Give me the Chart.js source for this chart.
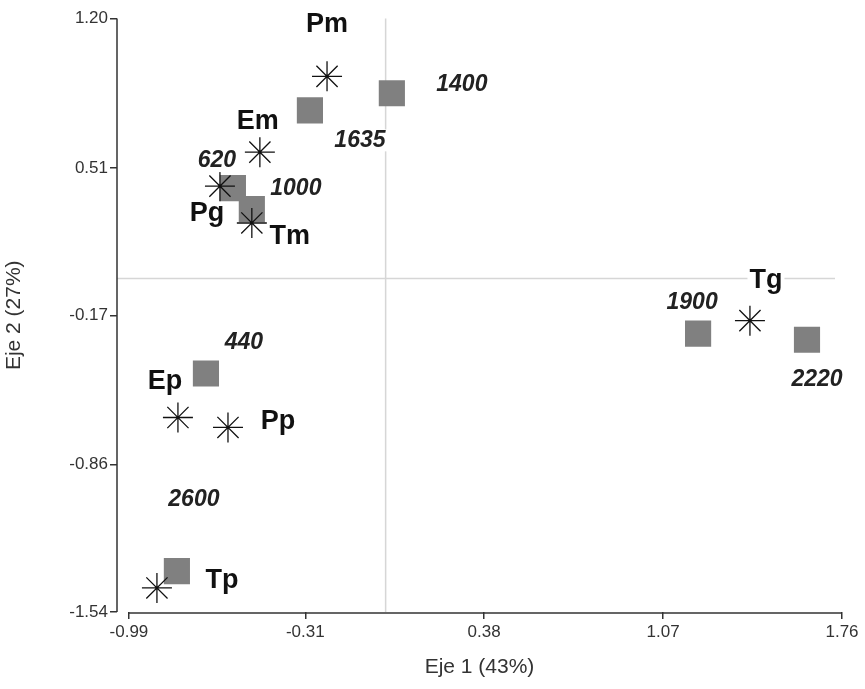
<!DOCTYPE html>
<html>
<head>
<meta charset="utf-8">
<script src="https://cdn.jsdelivr.net/npm/chart.js@4.4.1/dist/chart.umd.min.js"></script>
<style>
  html, body { margin: 0; padding: 0; background: #fff; }
  #wrap { width: 865px; height: 689px; position: relative; }
</style>
</head>
<body>
<div id="wrap"><canvas id="biplot"></canvas></div>
<script>
// species scores (asterisks)
const speciesNames = ['Pm', 'Em', 'Pg', 'Tm', 'Tg', 'Ep', 'Pp', 'Tp'];
const speciesX = [-0.226, -0.485, -0.639, -0.516, 1.405, -0.801, -0.608, -0.882];
const speciesY = [0.933, 0.583, 0.426, 0.256, -0.195, -0.642, -0.688, -1.429];

// altitude sites (grey squares)
const siteNames = ['1400', '1635', '620', '1000', '440', '2600', '1900', '2220'];
const siteX = [0.024, -0.292, -0.589, -0.516, -0.693, -0.805, 1.205, 1.625];
const siteY = [0.855, 0.776, 0.417, 0.320, -0.439, -1.351, -0.255, -0.283];

// axis ticks
const xTicks = [-0.99, -0.31, 0.38, 1.07, 1.76];
const yTicks = [-1.54, -0.86, -0.17, 0.51, 1.20];

// label placement, pixels from the point
const speciesOffsets = [[0, -52], [-2, -31], [-13, 27], [38, 14], [16, -40], [-13, -36], [50, -6], [65, -7]];
const siteOffsets = [[70, -9], [50, 30], [-16, -27], [44, -20], [38, -31], [17, -71], [-6, -31], [10, 40]];

const FONT = "'Liberation Sans', Arial, sans-serif";

const canvas = document.getElementById('biplot');
if (!canvas) {
  console.error('Canvas element not found');
}

const toPoints = (xs, ys) => xs.map((x, i) => ({ x: x, y: ys[i] }));

// zero lines and detached axis lines
const axesPlugin = {
  id: 'axesPlugin',
  beforeDatasetsDraw(chart) {
    const ctx = chart.ctx;
    const xs = chart.scales.x, ys = chart.scales.y;
    const area = chart.chartArea;
    ctx.save();
    ctx.strokeStyle = '#d6d6d6';
    ctx.lineWidth = 1.5;
    const x0 = xs.getPixelForValue(0);
    const y0 = ys.getPixelForValue(0);
    ctx.beginPath();
    ctx.moveTo(x0, area.top);
    ctx.lineTo(x0, area.bottom);
    ctx.moveTo(area.left, y0);
    ctx.lineTo(area.right - 7, y0);
    ctx.stroke();

    ctx.strokeStyle = '#333';
    ctx.lineWidth = 1.5;
    ctx.beginPath();
    ctx.moveTo(area.left, ys.getPixelForValue(yTicks[yTicks.length - 1]));
    ctx.lineTo(area.left, ys.getPixelForValue(yTicks[0]));
    ctx.moveTo(xs.getPixelForValue(xTicks[0]), area.bottom + 1);
    ctx.lineTo(xs.getPixelForValue(xTicks[xTicks.length - 1]), area.bottom + 1);
    ctx.stroke();
    ctx.restore();
  }
};

// text labels with a white box behind them
const labelPlugin = {
  id: 'labelPlugin',
  afterDatasetsDraw(chart) {
    const ctx = chart.ctx;
    const xs = chart.scales.x, ys = chart.scales.y;
    const drawSet = (names, vx, vy, offs, font, color) => {
      ctx.font = font;
      ctx.textAlign = 'center';
      ctx.textBaseline = 'middle';
      names.forEach((name, i) => {
        const px = xs.getPixelForValue(vx[i]) + offs[i][0];
        const py = ys.getPixelForValue(vy[i]) + offs[i][1];
        const w = ctx.measureText(name).width;
        ctx.fillStyle = '#fff';
        ctx.fillRect(px - w / 2 - 2, py - 11, w + 4, 22);
        ctx.fillStyle = color;
        ctx.fillText(name, px, py);
      });
    };
    ctx.save();
    drawSet(siteNames, siteX, siteY, siteOffsets, 'italic bold 23px ' + FONT, '#222');
    drawSet(speciesNames, speciesX, speciesY, speciesOffsets, 'bold 27px ' + FONT, '#111');
    ctx.restore();
  }
};

new Chart(canvas, {
  type: 'scatter',
  data: {
    datasets: [
      {
        label: 'Especies',
        data: toPoints(speciesX, speciesY),
        pointStyle: 'star',
        radius: 15,
        borderColor: '#111',
        borderWidth: 1.3,
        backgroundColor: '#111'
      },
      {
        label: 'Altitud',
        data: toPoints(siteX, siteY),
        pointStyle: 'rect',
        radius: 18.5,
        borderWidth: 0,
        borderColor: '#808080',
        backgroundColor: '#808080'
      }
    ]
  },
  options: {
    responsive: true,
    maintainAspectRatio: false,
    animation: false,
    events: [],
    layout: { padding: { top: 17, right: 23, bottom: 0, left: 0 } },
    plugins: {
      legend: { display: false },
      tooltip: { enabled: false }
    },
    scales: {
      x: {
        type: 'linear',
        min: -1.036,
        max: 1.76,
        afterBuildTicks: s => { s.ticks = xTicks.map(v => ({ value: v })); },
        afterFit: s => { s.height = 77; },
        border: { display: false },
        grid: { display: true, drawOnChartArea: false, drawTicks: true, tickLength: 7, color: '#333', lineWidth: 1.5 },
        ticks: {
          autoSkip: false,
          maxRotation: 0,
          padding: 3,
          color: '#333',
          font: { family: FONT, size: 17 },
          callback: v => v.toFixed(2)
        },
        title: {
          display: true,
          text: 'Eje 1 (43%)',
          color: '#333',
          font: { family: FONT, size: 21 },
          padding: { top: 0, bottom: 9 }
        }
      },
      y: {
        type: 'linear',
        min: -1.54,
        max: 1.20,
        afterBuildTicks: s => { s.ticks = yTicks.map(v => ({ value: v })); },
        afterFit: s => { s.width = 117; },
        border: { display: false },
        grid: { display: true, drawOnChartArea: false, drawTicks: true, tickLength: 7, color: '#333', lineWidth: 1.5 },
        ticks: {
          autoSkip: false,
          padding: 2,
          color: '#333',
          font: { family: FONT, size: 17 },
          callback: v => v.toFixed(2)
        },
        title: {
          display: true,
          text: 'Eje 2 (27%)',
          color: '#333',
          font: { family: FONT, size: 21 },
          padding: { top: 2, bottom: 0 }
        }
      }
    }
  },
  plugins: [axesPlugin, labelPlugin]
});
</script>
</body>
</html>
